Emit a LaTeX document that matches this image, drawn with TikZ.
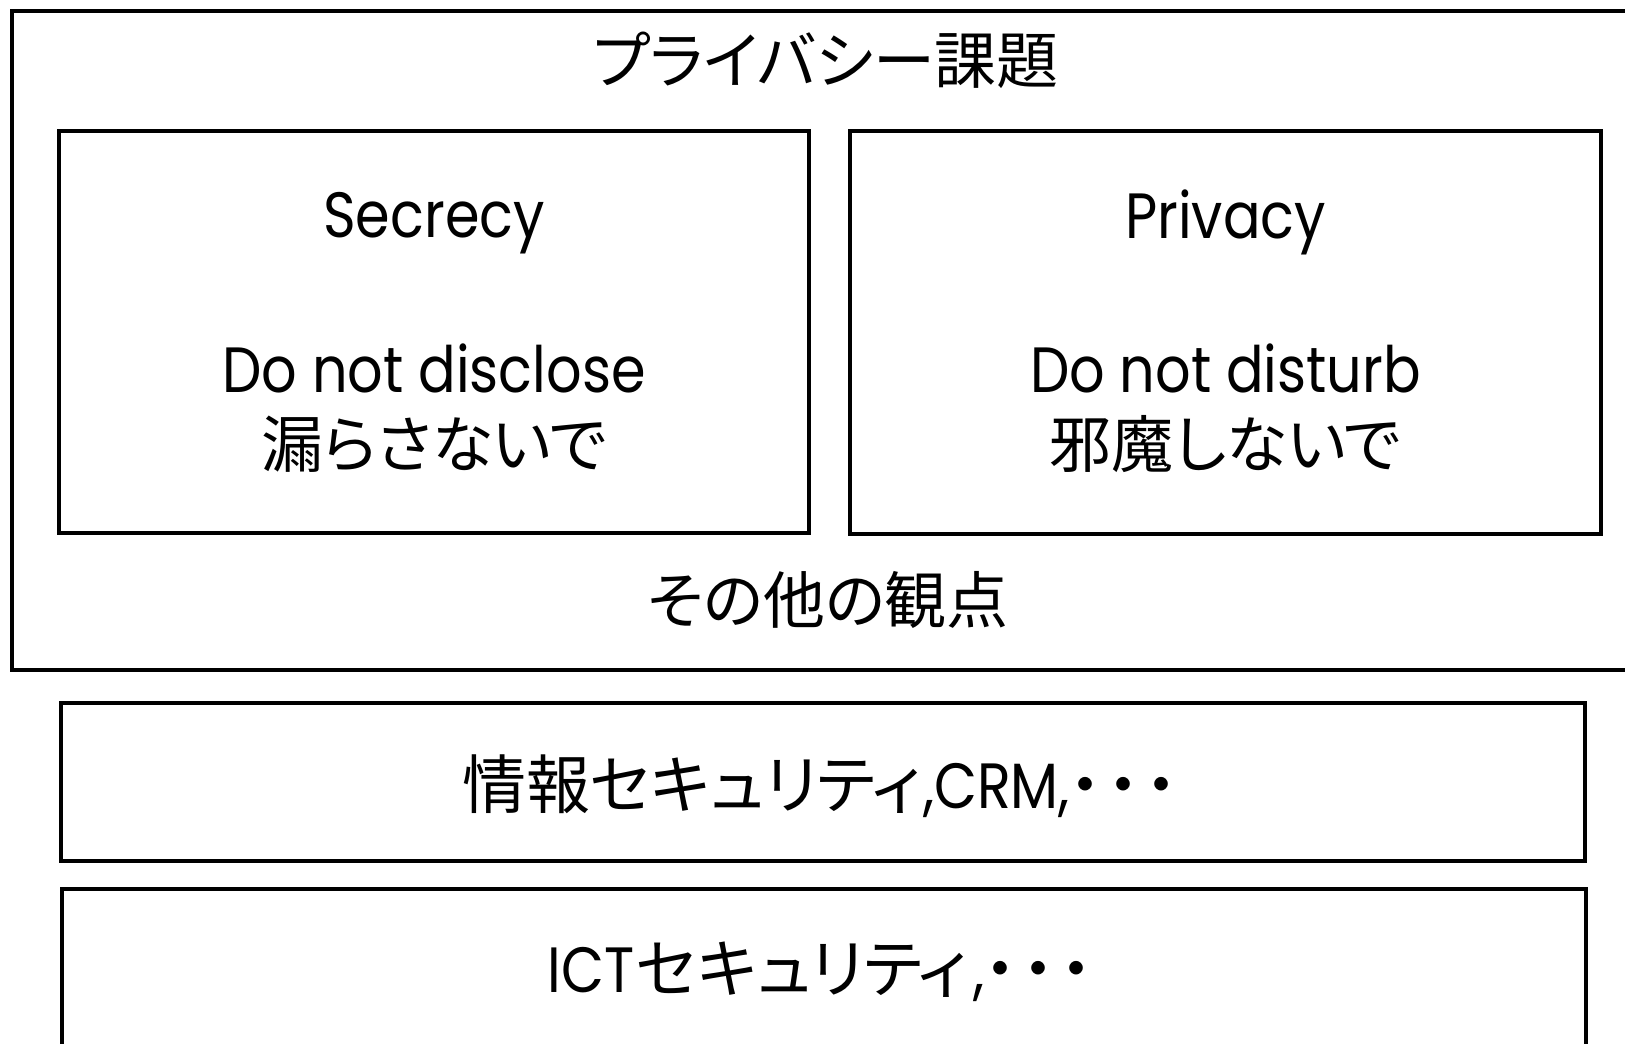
\documentclass[tikz,border=0pt]{standalone}
\usepackage{fontspec}
\setmainfont{Poppins}[FakeStretch=0.87]
\newfontfamily\jp[RawFeature=+palt]{Noto Sans CJK JP}
\newcommand{\jdots}{{\jp ・\hspace{3pt}・\hspace{3pt}・}}
\begin{document}
\begin{tikzpicture}[x=0.5pt,y=-0.5pt,
  box/.style={draw=black,line width=2.25pt,inner sep=0pt,rectangle},
  txt/.style={anchor=base,inner sep=0pt,font=\fontsize{32}{38}\selectfont},
  jtxt/.style={anchor=base,inner sep=0pt,font=\jp\fontsize{31}{38}\selectfont}]
\useasboundingbox (0,0) rectangle (1625,1043);
\clip (0,0) rectangle (1625,1043);
% boxes
\node[box,minimum width=814pt,minimum height=329.5pt] (outer) at (826,340.5) {};
\node[box,minimum width=375pt,minimum height=201pt] (secrecy) at (434,332) {};
\node[box,minimum width=375.5pt,minimum height=201.5pt] (privacy) at (1225.5,332.5) {};
\node[box,minimum width=762pt,minimum height=79pt] (infosec) at (823,782) {};
\node[box,minimum width=762pt,minimum height=85.5pt] (ictsec) at (824,974.5) {};
% texts
\node[jtxt] (title) at (826,84) {プライバシー課題};
\node[txt] (sec1) at (434,237) {Secrecy};
\node[txt] (sec2) at (434,392) {Do not disclose};
\node[jtxt] (sec3) at (434,467) {漏らさないで};
\node[txt] (pri1) at (1225.5,238) {Privacy};
\node[txt] (pri2) at (1225.5,392) {Do not disturb};
\node[jtxt] (pri3) at (1225.5,467) {邪魔しないで};
\node[jtxt] (other) at (828,623) {その他の観点};
\node[txt] (info) at (820,808) {{\jp 情報セキュリティ}\kern1pt,CRM,\jdots};
\node[txt] (ict) at (820,992) {ICT\kern1pt{\jp セキュリティ}\kern3pt,\jdots};
\end{tikzpicture}
\end{document}
